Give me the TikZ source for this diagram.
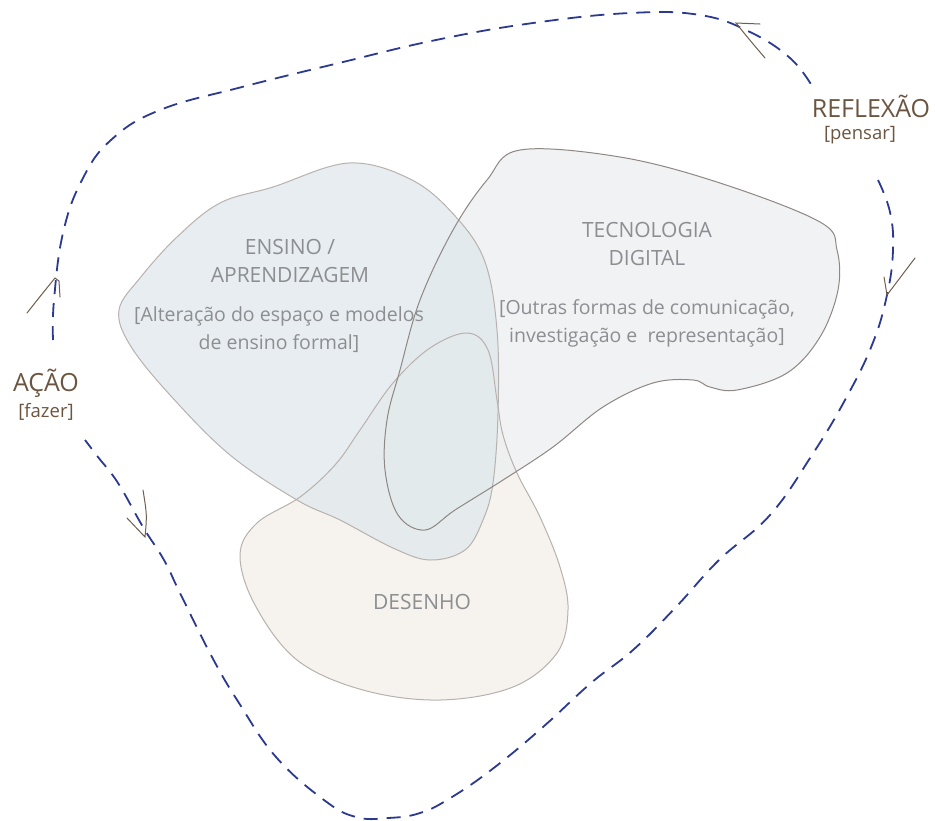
\documentclass[tikz,border=0pt]{standalone}
\usepackage{fontspec}
\setmainfont{Open Sans}
\usetikzlibrary{positioning}

\definecolor{loopblue}{HTML}{2B3990}
\definecolor{tipbrown}{HTML}{6E5E4E}
\definecolor{labelbrown}{HTML}{6B5540}
\definecolor{blobtext}{HTML}{8C8E92}
\definecolor{ensinofill}{HTML}{E1E9EC}
\definecolor{tecfill}{HTML}{ECEEF0}
\definecolor{desenhofill}{HTML}{F6F3EE}
\definecolor{softline}{HTML}{B8B1AE}
\definecolor{darkline}{HTML}{8E8784}

\begin{document}
\begin{tikzpicture}[x=1pt, y=-1pt,
        cycle/.style={draw=loopblue, line width=1.8pt, dash pattern=on 14pt off 9pt},
        tip/.style={draw=tipbrown, line width=1pt, line cap=round},
        big/.style={text=blobtext, font=\fontsize{21}{28}\selectfont, align=center, inner sep=0pt},
        small/.style={text=blobtext, font=\fontsize{19.5}{28}\selectfont, align=center, inner sep=0pt},
        outer/.style={text=labelbrown, font=\fontsize{25}{28}\selectfont, inner sep=0pt},
        outersub/.style={text=labelbrown, font=\fontsize{18.5}{22}\selectfont, inner sep=0pt}]

    \useasboundingbox (0,0) rectangle (936,820);

    % the three areas
    \def\desenho{plot[smooth cycle, tension=0.6] coordinates {(467,333) (488,350) (497,400) (503,435)
        (517,473) (540,517) (560,567) (568,610) (557,653) (513,687) (440,700) (363,690) (297,660)
        (255,605) (240,555) (257,523) (300,497) (335,465) (360,430) (393,383) (430,348)}}
    \def\tecno{plot[smooth cycle, tension=0.6] coordinates {(520,150) (620,157) (720,183) (820,222)
        (837,250) (838,290) (820,337) (787,373) (737,390) (710,387) (693,380) (653,383) (603,407)
        (553,447) (503,480) (455,510) (425,530) (398,515) (385,470) (387,420) (400,370) (420,300)
        (453,230) (487,180)}}
    \def\ensino{plot[smooth cycle, tension=0.6] coordinates {(349,163) (412,180) (456,217) (485,262)
        (497,330) (498,413) (493,483) (483,520) (465,550) (430,560) (393,548) (340,520) (297,500)
        (230,455) (170,395) (130,345) (119,310) (140,278) (177,237) (220,203) (273,187)}}

    \fill[desenhofill] \desenho;
    \fill[tecfill, fill opacity=0.75] \tecno;
    \fill[ensinofill, fill opacity=0.8] \ensino;
    \draw[softline, line width=1pt] \desenho;
    \draw[softline, line width=1pt] \ensino;
    \draw[darkline, line width=1pt] \tecno;

    % labels inside
    \node[big] (ensino) at (290,261) {ENSINO /\\APRENDIZAGEM};
    \node[small] (ensinosub) at (279,330) {[Alteração do espaço e modelos\\de ensino formal]};
    \node[big] (tecno) at (647,244) {TECNOLOGIA\\DIGITAL};
    \node[small] (tecnosub) at (647,323) {[Outras formas de comunicação,\\investigação e\ \ representação]};
    \node[big] (desenho) at (422,602) {DESENHO};

    % labels outside
    \node[outer] (reflexao) at (871,106) {REFLEXÃO};
    \node[outersub] (pensar) [below=9pt of reflexao, xshift=-11pt] {[pensar]};
    \node[outer] (acao) at (46,383) {AÇÃO};
    \node[outersub] (fazer) [below=6pt of acao] {[fazer]};

    % the loop
    \draw[cycle] plot[smooth, tension=0.7] coordinates {(53,340) (54,300) (63,233) (82,180)
        (111,140) (160,110) (242,87) (339,63) (436,40) (533,23) (630,13) (700,15) (750,32)
        (790,58) (812,86)};
    \draw[cycle] plot[smooth, tension=0.7] coordinates {(878,180) (890,212) (893,250) (887,295)
        (872,345) (845,400) (812,455) (770,515) (719,560) (676,607) (633,650) (591,683) (543,727)
        (495,767) (452,797) (420,813) (388,818) (356,817) (324,800) (276,757) (239,703) (212,657)
        (180,593) (164,560) (143,527) (118,483) (98,457) (85,440)};

    % arrow tips
    \coordinate (toptip) at (736,23);
    \coordinate (righttip) at (887,295);
    \coordinate (lefttip) at (55,278);
    \coordinate (lowtip) at (145,537);
    \draw[tip] (760,24) -- (toptip) .. controls (748,38) .. (765,58);
    \draw[tip] (884,277) -- (righttip) -- (915,258);
    \draw[tip] (27,313) .. controls (42,294) .. (lefttip) -- (59,281) -- (60,297);
    \draw[tip] (143,490) .. controls (147,515) .. (lowtip) -- (127,518);
\end{tikzpicture}
\end{document}
